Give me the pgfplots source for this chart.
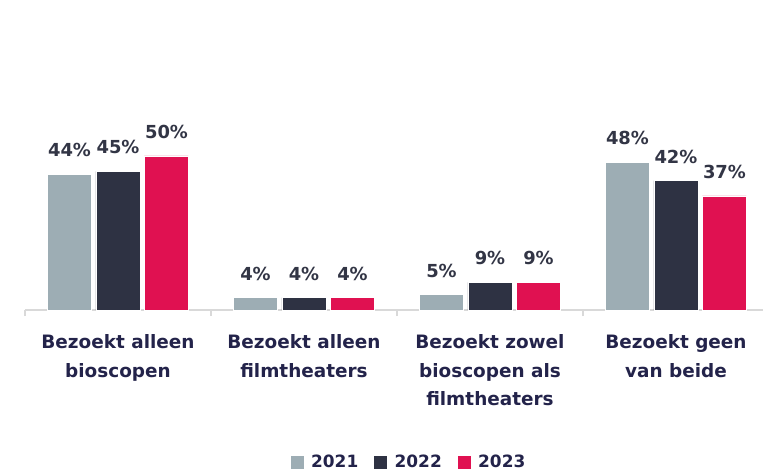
\documentclass[border=0pt]{standalone}
\usepackage{pgfplots}
\pgfplotsset{compat=1.18}
\usepackage{fontspec}
\setmainfont{DejaVu Sans}
\definecolor{cA}{HTML}{9DADB4}
\definecolor{cB}{HTML}{2E3243}
\definecolor{cC}{HTML}{E01151}
\definecolor{lbl}{HTML}{323545}
\definecolor{cat}{HTML}{23234A}
\definecolor{axgray}{HTML}{D9D9D9}
\begin{document}
\begin{tikzpicture}
\begin{axis}[
  scale only axis, width=738bp, height=310bp,
  xmin=-0.5, xmax=3.468, ymin=0, ymax=100.6,
  clip=false,
  axis y line=none, axis x line*=bottom,
  x axis line style={draw=axgray, line width=1.6bp, -},
  ybar=4.5bp, bar width=44bp,
  xtick={0,1,2,3},
  xticklabels={{Bezoekt alleen\\bioscopen},{Bezoekt alleen\\filmtheaters},{Bezoekt zowel\\bioscopen als\\filmtheaters},{Bezoekt geen\\van beide}},
  major tick length=0pt,
  minor xtick={-0.5,0.5,1.5,2.5},
  minor tick length=6bp,
  xtick align=outside,
  minor x tick style={draw=axgray, line width=1.6bp},
  xticklabel style={align=center, font=\bfseries\fontsize{18.5}{29}\selectfont, text=cat, anchor=north, inner sep=0pt, yshift=-24bp},
  nodes near coords={\pgfmathprintnumber[assume math mode=true]{\pgfplotspointmeta}\%},
  point meta=y,
  every node near coord/.append style={font=\bfseries\fontsize{18}{21}\selectfont, text=lbl, anchor=base, inner sep=0pt, yshift=17.5bp},
  legend columns=3,
  legend style={draw=none, fill=none, at={(0.5197,-0.49)}, anchor=center,
    font=\bfseries\fontsize{17}{20}\selectfont, text=cat,
    /tikz/every even column/.append style={column sep=13bp},
    /tikz/every odd column/.append style={column sep=5bp},
    inner sep=0pt},
  legend image code/.code={\fill[#1] (0bp,-7bp) rectangle (14bp,7bp);},
]
\addplot[fill=cA, draw=white, line width=0.4bp] coordinates {(0,44) (1,4) (2,5) (3,48)};
\addplot[fill=cB, draw=white, line width=0.4bp] coordinates {(0,45) (1,4) (2,9) (3,42)};
\addplot[fill=cC, draw=white, line width=0.4bp] coordinates {(0,50) (1,4) (2,9) (3,37)};
\legend{2021,2022,2023}
\end{axis}
\pgfresetboundingbox
\path (current axis.south west) ++(-25bp,-163bp) rectangle (current axis.north east);
\end{tikzpicture}
\end{document}
